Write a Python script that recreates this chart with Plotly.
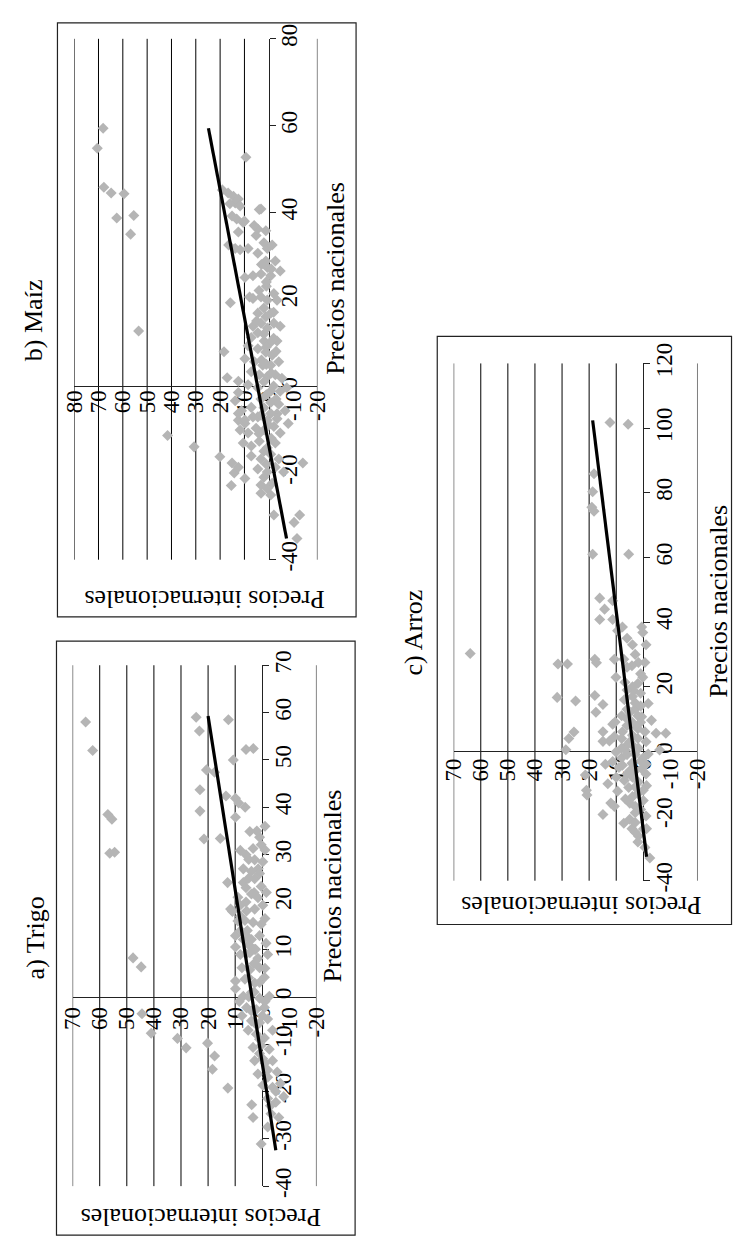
import plotly.graph_objects as go

# ---------------- data (Precios nacionales, Precios internacionales) ----------------
trigo_points = [
    (58.0, 65.2), (52.0, 62.6), (59.0, 24.4), (56.1, 23.2), (58.5, 12.5), (52.2, 6.0), (52.4, 3.3),
    (50.0, 10.7), (47.9, 20.6), (47.4, 17.6), (43.7, 23.0), (42.4, 13.4), (41.9, 9.9), (40.9, 8.7),
    (40.0, 6.3), (39.2, 23.0), (38.5, 57.0), (37.5, 55.5), (30.5, 54.5), (30.3, 56.3),
    (8.2, 47.7), (6.3, 44.7), (-3.6, 44.4), (-7.7, 41.0), (-8.8, 31.3), (-10.8, 28.1), (-9.8, 20.2),
    (-12.5, 17.6), (-15.3, 18.4), (-19.3, 12.7), (33.3, 21.5), (33.4, 15.5), (24.1, 12.8), (18.0, 11.0),
    (37.9, 9.9), (34.9, 4.6), (33.7, 1.0), (30.9, 8.1), (31.3, 3.4), (32.1, 0.4), (28.9, 2.8), (28.5, -0.2),
    (26.5, 4.0), (24.1, 7.0), (24.9, 2.8), (23.3, 0.4), (21.7, 4.0), (20.9, 1.6), (18.5, 11.7), (19.3, 8.1),
    (18.1, 5.8), (18.5, 2.8), (19.3, -0.2), (16.1, 6.4), (15.7, 3.4), (15.3, 0.4), (12.9, 9.9), (12.1, 7.0),
    (12.1, 4.0), (12.9, 1.0), (11.3, -1.4), (10.5, 9.9), (8.9, 8.1), (9.3, 4.6), (8.1, 1.6), (8.9, -2.0),
    (6.1, 7.5), (5.7, 4.6), (6.1, 1.0), (3.3, 9.9), (3.7, 6.4), (2.9, 2.8), (4.1, -0.8), (1.7, 9.9),
    (0.1, 7.0), (0.9, 4.0), (-0.3, 1.0), (0.1, -2.6), (-2.3, 5.8), (-2.7, 2.2), (-2.3, -0.8), (-5.1, 4.0),
    (-5.5, 1.0), (-4.7, -2.0), (-7.1, 5.2), (-7.9, 2.2), (-8.7, -0.8), (-7.1, -3.8), (-10.7, 3.4),
    (-10.3, 0.4), (-11.1, -2.6), (-13.5, 2.8), (-13.1, -0.2), (-13.5, -3.8), (-16.3, 1.6), (-15.5, -2.0),
    (-15.9, -5.5), (-18.7, -0.2), (-19.1, -3.8), (-18.3, -6.7), (-21.5, -2.0), (-22.3, -5.0), (-21.1, -7.9),
    (-24.7, -3.2), (-25.5, -6.1), (-25.5, 3.4), (-31.1, 0.4), (-22.8, 3.9), (-27.5, -2.0),
    (27.0, 1.5), (22.0, -1.5), (16.5, -1.0), (14.0, 5.5), (10.0, 2.5), (-1.0, 8.5), (-4.0, 7.5),
    (30.0, 6.0), (29.0, 5.0), (27.0, 7.0), (25.0, 5.0), (23.0, 6.0), (22.0, 3.0), (21.0, 9.0), (20.0, 6.0),
    (17.0, 8.0), (16.0, 9.0), (14.0, 8.0), (13.0, 6.0), (11.0, 5.0), (10.0, 3.0), (9.0, 6.0), (7.0, 3.0),
    (6.0, -1.0), (4.0, 5.0), (3.0, 1.0), (1.0, 3.0), (0.0, 5.0), (-1.0, -1.0), (-3.0, 4.0), (-4.0, 0.0),
    (-6.0, 2.0), (-9.0, 1.0), (-12.0, 1.0), (-14.0, -1.0), (-17.0, -2.0), (-20.0, -5.0), (-23.0, -3.0),
    (35.0, 2.0), (36.0, -1.0), (31.0, -1.0), (26.0, 1.0),
]

maiz_points = [
    (59.4, 68.1), (54.8, 70.5), (45.8, 67.8), (44.5, 64.8), (44.3, 59.5), (38.7, 62.5), (39.3, 55.5),
    (35.0, 56.8), (12.7, 53.5), (52.7, 9.4), (40.8, 3.2), (7.9, 18.4), (1.9, 17.1), (19.2, 15.8),
    (-11.4, 41.6), (-14.0, 30.7), (-16.3, 20.1), (-17.7, 15.1), (-20.0, 14.2), (-22.9, 15.4),
    (-17.7, -14.0), (-29.7, -2.1), (-29.7, -12.7), (-31.4, -10.4), (-35.1, -11.6),
    (45.2, 19.1), (44.5, 16.7), (43.7, 14.5), (43.1, 12.5), (42.2, 13.8), (41.5, 11.8), (39.2, 15.1),
    (38.5, 13.2), (37.7, 10.5), (35.5, 12.5), (32.5, 16.5), (31.7, 13.8), (31.4, 11.8), (31.7, 8.5),
    (34.7, 5.2), (40.7, 3.9), (36.2, 4.5), (35.8, 1.2), (30.6, 4.5), (31.7, 0.6), (32.5, -1.4),
    (28.8, 1.2), (25.0, 9.8), (25.4, 6.5), (25.8, 3.2), (25.4, -0.8), (28.8, -2.7), (27.3, 0.6),
    (26.5, -4.7), (20.5, 3.2), (20.2, 6.5), (19.8, 0.6), (21.3, -2.1), (19.8, -3.4), (16.8, 4.5),
    (16.0, 1.2), (16.8, -0.8), (20.5, 7.9), (14.5, 3.2), (13.8, 6.5), (13.4, 0.6), (14.5, -2.1),
    (13.8, -4.7), (12.3, 4.5), (11.2, 7.2), (10.4, 1.9), (10.1, -0.8), (10.4, -3.4), (8.6, 4.5),
    (7.8, 1.2), (7.1, -1.4), (9.3, 8.5), (6.3, 9.8), (5.6, 5.9), (4.8, 2.5), (4.8, -0.8), (5.6, -4.1),
    (3.3, 7.2), (2.6, 3.9), (2.2, 0.6), (2.6, -2.7), (1.8, -5.4), (1.1, 12.5), (0.3, 8.5), (-0.4, 4.5),
    (-1.2, -0.8), (-1.2, -4.7), (-0.4, -7.4), (-3.0, 3.2), (-3.8, -0.8), (-4.2, -4.1), (-1.5, 12.5),
    (-3.4, 13.8), (-5.7, 11.2), (-4.9, 7.2), (-7.1, 4.5), (-7.9, 0.6), (-6.4, -3.4), (-5.7, -6.7),
    (-8.6, -8.0), (-8.6, 9.8), (-7.9, 12.5), (-6.3, 12.5), (-7.8, 9.8), (-7.1, 6.5), (-6.7, 3.2),
    (-6.3, -0.8), (-7.5, -3.4), (-10.1, 11.8), (-10.8, 8.5), (-9.7, 5.2), (-10.1, 1.9), (-9.3, -2.1),
    (-10.8, -4.7), (-13.1, 10.5), (-13.8, 7.2), (-12.7, 3.9), (-14.2, 0.6), (-13.1, -2.7), (-16.1, 7.2),
    (-16.8, 3.2), (-15.7, -0.8), (-16.8, -4.1), (-19.1, 4.5), (-19.8, 0.6), (-18.7, -2.7), (-19.8, -6.1),
    (-22.8, 3.2), (-23.6, 0.6), (-22.4, -1.4), (-24.7, 3.2), (-25.1, -0.8), (-18.7, 12.5), (-21.3, 9.8),
    (28.0, 3.0), (27.0, -1.0), (23.0, 1.0), (22.0, 4.0), (18.0, 2.0), (17.0, -2.0), (15.0, 5.0),
    (12.0, 2.0), (11.0, -2.0), (9.0, 1.0), (8.0, -3.0), (6.0, 3.0), (5.0, 1.0), (3.0, -1.0), (1.0, 2.0),
    (0.0, -2.0), (-2.0, 1.0), (-3.0, -3.0), (-5.0, 2.0), (-9.0, 0.0), (-11.0, 4.0), (-12.0, -1.0),
    (-15.0, 2.0), (-18.0, 1.0), (-21.0, 2.0), (33.0, 2.0), (37.0, 6.0), (24.0, 1.0), (38.0, 10.0),
    (42.0, 16.0),
]

arroz_points = [
    (101.7, 12.3), (101.2, 5.6), (85.9, 18.2), (80.3, 18.7), (75.5, 19.0), (74.3, 18.2), (61.0, 18.7),
    (61.0, 5.4), (47.4, 16.1), (44.0, 14.3), (40.8, 16.1), (46.6, 11.3), (40.8, 11.3), (38.5, 7.7),
    (37.3, 9.5), (38.5, 0.6), (36.8, 0.2), (30.3, 63.9), (27.0, 31.5), (27.0, 28.0), (28.5, 17.9),
    (28.5, 10.7), (28.5, 7.2), (27.5, 1.8), (26.5, 4.2), (27.5, -0.6), (16.7, 31.8), (15.6, 25.0),
    (17.3, 17.9), (14.5, 14.9), (22.9, 10.1), (21.4, 6.8), (18.8, 3.6), (22.9, 0.2), (6.0, 25.6),
    (4.0, 27.5), (0.5, 28.6), (6.1, 14.9), (8.4, 11.3), (3.2, 12.5), (6.1, 7.7), (9.6, 4.8), (10.7, 0.6),
    (13.1, 3.0), (14.8, -1.8), (9.6, -3.0), (6.1, -0.6), (5.6, -4.7), (5.6, -8.3), (0.4, -6.0),
    (-0.2, 10.1), (0.4, 6.6), (2.1, 4.2), (1.0, 1.8), (-0.8, -1.8), (-3.1, 11.3), (-4.3, 7.7),
    (-3.7, 4.2), (-5.4, 0.6), (-12.0, 21.0), (-10.0, 13.1), (-12.3, 9.5), (-11.2, 5.4), (-9.5, 1.8),
    (-10.6, -1.2), (-17.0, 10.7), (-14.7, 6.6), (-17.0, 3.0), (-15.2, 0.0), (-19.5, 14.9), (-22.2, 7.2),
    (-23.9, 4.2), (-26.2, 1.8), (-23.9, -1.2), (-33.0, -2.4), (-29.7, -0.6), (-7.3, 21.4),
    (12.0, 5.0), (11.0, 2.0), (8.0, 6.0), (7.0, 2.0), (4.0, 8.0), (3.0, -1.0), (2.0, 6.0), (-1.0, 3.0),
    (-2.0, 8.0), (-2.0, 0.0), (-6.0, 3.0), (-7.0, 6.0), (-7.0, -1.0), (-8.0, 10.0), (-13.0, 2.0),
    (-14.0, 4.0), (-18.0, 1.0), (-20.0, -1.0), (-21.0, 5.0), (-25.0, 3.0), (-28.0, 2.0), (16.0, 7.0),
    (18.0, 1.0), (20.0, 4.0), (24.0, 1.0), (33.0, 4.0), (33.0, -1.0), (35.0, 6.0), (12.1, 17.5),
    (9.1, 10.4), (4.6, 10.7), (3.1, 14.9), (27.4, 17.3), (-13.5, 20.8), (-4.0, 14.0), (-16.0, 12.0),
    (15.0, 3.0), (14.0, 1.0), (13.0, 6.0), (11.0, 8.0), (10.0, 6.0), (9.0, 1.0), (8.0, 3.0), (5.0, 4.0),
    (4.0, 2.0), (3.0, 5.0), (1.0, 8.0), (0.0, 3.0), (-1.0, 6.0), (-3.0, 1.0), (-4.0, -1.0), (-5.0, 9.0),
    (-6.0, 5.0), (-8.0, 4.0), (-9.0, 7.0), (-11.0, 3.0), (-12.0, 0.0), (-16.0, 5.0), (-19.0, 3.0),
    (-22.0, 3.0), (-24.0, 0.0), (17.0, 4.0), (19.0, 6.0), (21.0, 2.0), (26.0, 6.0), (30.0, 3.0),
]

# regression line end points (Precios nacionales, Precios internacionales)
trigo_trend = [(-32.4, -5.0), (59.3, 20.0)]
maiz_trend = [(-35.1, -7.3), (59.4, 24.8)]
arroz_trend = [(-32.6, -1.2), (102.4, 18.7)]

# axis tick values
trigo_int_ticks = [70, 60, 50, 40, 30, 20, 10, 0, -10, -20]
trigo_nac_ticks = [-40, -30, -20, -10, 0, 10, 20, 30, 40, 50, 60, 70]
maiz_int_ticks = [80, 70, 60, 50, 40, 30, 20, 10, 0, -10, -20]
maiz_nac_ticks = [-40, -20, 0, 20, 40, 60, 80]
arroz_int_ticks = [70, 60, 50, 40, 30, 20, 10, 0, -10, -20]
arroz_nac_ticks = [-40, -20, 0, 20, 40, 60, 80, 100, 120]
trigo_grid = [70, 60, 50, 40, 30, 20, 10, -20]
maiz_grid = [80, 70, 60, 50, 40, 30, 20, 10, -20]
arroz_grid = [70, 60, 50, 40, 30, 20, 10, -20]

titles = ["a) Trigo", "b) Maíz", "c) Arroz"]
x_title = "Precios nacionales"
y_title = "Precios internacionales"

# ---------------- layout geometry (pixels) ----------------
W, H = 744, 1251
FONT = "Liberation Serif, Times New Roman, serif"
GRAY = "#b5b5b5"


def fx(p):
    return p / W


def fy(p):
    return 1 - p / H


panels = [
    dict(points=trigo_points, trend=trigo_trend, int_ticks=trigo_int_ticks, nac_ticks=trigo_nac_ticks,
         grid=trigo_grid, int_range=(-20, 70), nac_range=(-40, 70),
         plot=(61.7, 314.0, 661.7, 1196.7), box=(45, 354, 637, 1247),
         title=(23, 942), xt=(331, 888), yt=(194, 1229), xstand=0, ystand=-6),
    dict(points=maiz_points, trend=maiz_trend, int_ticks=maiz_int_ticks, nac_ticks=maiz_nac_ticks,
         grid=maiz_grid, int_range=(-20, 80), nac_range=(-40, 80),
         plot=(63.3, 315.0, 18.3, 553.3), box=(46, 355, 2, 612),
         title=(22, 307), xt=(333, 264), yt=(198, 594), xstand=-6, ystand=-6),
    dict(points=arroz_points, trend=arroz_trend, int_ticks=arroz_int_ticks, nac_ticks=arroz_nac_ticks,
         grid=arroz_grid, int_range=(-20, 70), nac_range=(-40, 120),
         plot=(456.0, 708.3, 351.7, 883.0), box=(439, 743.5, 324, 928),
         title=(414, 628), xt=(730, 596), yt=(588, 909), xstand=-3, ystand=-6),
]

fig = go.Figure()
shapes = []
annotations = []
layout_axes = {}

for i, p in enumerate(panels, start=1):
    sfx = "" if i == 1 else str(i)
    xa, ya = "x" + sfx, "y" + sfx
    nac = [pt[0] for pt in p["points"]]
    inte = [pt[1] for pt in p["points"]]
    fig.add_trace(go.Scatter(x=inte, y=nac, xaxis=xa, yaxis=ya, mode="markers",
                             marker=dict(symbol="diamond", size=8.5, color=GRAY, line=dict(width=0)),
                             showlegend=False, hoverinfo="skip"))
    fig.add_trace(go.Scatter(x=[t[1] for t in p["trend"]], y=[t[0] for t in p["trend"]],
                             xaxis=xa, yaxis=ya, mode="lines",
                             line=dict(color="black", width=3.2), showlegend=False, hoverinfo="skip"))

    x0, x1, y0, y1 = p["plot"]
    dx = [fx(x0), fx(x1)]
    dy = [fy(y1), fy(y0)]
    imin, imax = p["int_range"]
    nmin, nmax = p["nac_range"]
    xpos = dy[0] + (0 - nmin) / (nmax - nmin) * (dy[1] - dy[0])
    ypos = dx[0] + (imax - 0) / (imax - imin) * (dx[1] - dx[0])

    layout_axes["xaxis" + sfx] = dict(
        domain=dx, range=[imax, imin], anchor="free", position=xpos, side="bottom",
        tickmode="array", tickvals=p["int_ticks"], ticktext=[str(v) for v in p["int_ticks"]],
        tickangle=-90, ticks="", showgrid=False, zeroline=False, showline=True,
        linecolor="#222222", linewidth=1, layer="below traces", ticklabelstandoff=p["xstand"],
        tickfont=dict(family=FONT, size=23, color="black"), fixedrange=True)
    layout_axes["yaxis" + sfx] = dict(
        domain=dy, range=[nmin, nmax], anchor="free", position=ypos, side="right",
        tickmode="array", tickvals=p["nac_ticks"], ticktext=[str(v) for v in p["nac_ticks"]],
        tickangle=-90, ticks="outside", ticklen=6, tickcolor="#222222", tickwidth=1,
        showgrid=False, zeroline=False, showline=True, linecolor="#222222", linewidth=1,
        layer="below traces", ticklabelstandoff=p["ystand"],
        tickfont=dict(family=FONT, size=23, color="black"), fixedrange=True)

    for g in p["grid"]:
        shapes.append(dict(type="line", xref=xa, yref=ya + " domain", x0=g, x1=g, y0=0, y1=1,
                           line=dict(color="black", width=1), layer="below"))

    bx0, bx1, by0, by1 = p["box"]
    shapes.append(dict(type="rect", xref="paper", yref="paper", x0=fx(bx0), x1=fx(bx1),
                       y0=fy(by1), y1=fy(by0), line=dict(color="#222222", width=1.2),
                       fillcolor="rgba(0,0,0,0)", layer="above"))

    annotations.append(dict(text=titles[i - 1], x=fx(p["title"][0]), y=fy(p["title"][1]),
                            xref="paper", yref="paper", showarrow=False, textangle=-90,
                            xanchor="center", yanchor="middle",
                            font=dict(family=FONT, size=26, color="black")))
    annotations.append(dict(text=x_title, x=fx(p["xt"][0]), y=fy(p["xt"][1]),
                            xref="paper", yref="paper", showarrow=False, textangle=-90,
                            xanchor="center", yanchor="middle",
                            font=dict(family=FONT, size=26, color="black")))
    annotations.append(dict(text=y_title, x=fx(p["yt"][0]), y=fy(p["yt"][1]),
                            xref="paper", yref="paper", showarrow=False, textangle=180,
                            xanchor="center", yanchor="middle",
                            font=dict(family=FONT, size=26, color="black")))

fig.update_layout(
    width=W, height=H, margin=dict(l=0, r=0, t=0, b=0),
    paper_bgcolor="white", plot_bgcolor="rgba(0,0,0,0)",
    shapes=shapes, annotations=annotations, showlegend=False,
    **layout_axes,
)

fig.write_html("out.html", include_plotlyjs=True, config={"displayModeBar": False})
